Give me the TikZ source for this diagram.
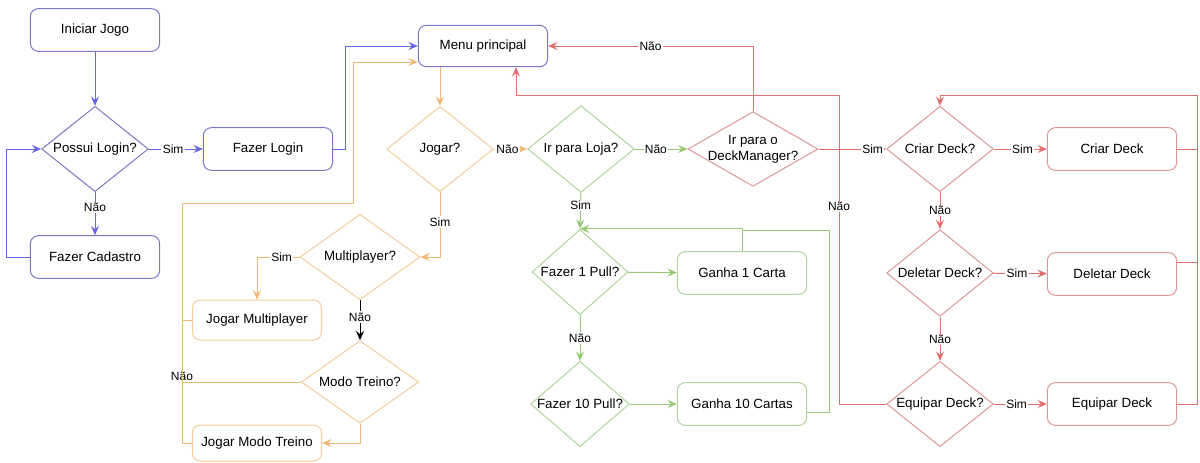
\documentclass[tikz,border=0pt]{standalone}
\usepackage{fontspec}
\setmainfont{Liberation Sans}
\usetikzlibrary{shapes.geometric,arrows.meta}

\definecolor{blueln}{RGB}{102,102,230}
\definecolor{bluebd}{RGB}{120,120,200}
\definecolor{orangeln}{RGB}{240,185,120}
\definecolor{orangebd}{RGB}{245,205,155}
\definecolor{greenln}{RGB}{150,200,120}
\definecolor{greenbd}{RGB}{175,212,158}
\definecolor{redln}{RGB}{224,112,112}
\definecolor{redbd}{RGB}{222,150,150}

\tikzset{every picture/.style={line width=0.75pt}}
\tikzset{
  box/.style={draw, rounded corners=6pt, minimum width=97pt, minimum height=32pt, inner sep=2pt, font=\fontsize{10}{12}\selectfont},
  cond/.style={draw, diamond, shape aspect=1.3, inner sep=0pt, minimum width=80pt, minimum height=64pt, align=center, font=\fontsize{10}{12}\selectfont},
  lbl/.style={fill=white, inner sep=1pt, font=\fontsize{9}{10}\selectfont},
  flow/.style={-{Stealth[length=7pt,width=6pt,inset=2.5pt]}},
  blueflow/.style={flow, draw=blueln},
  orangeflow/.style={flow, draw=orangeln},
  greenflow/.style={flow, draw=greenln},
  redflow/.style={flow, draw=redln}
}

\begin{document}
\begin{tikzpicture}[x=0.75pt,y=0.75pt,yscale=-1,xscale=1]
	\useasboundingbox (0,0) rectangle (1200,462);
	
	% Login
	\node [box, draw=bluebd] (inicio) at (95,30) {Iniciar Jogo};
	\node [cond, draw=bluebd] (possui) at (95,149) {Possui Login?};
	\node [box, draw=bluebd] (cadastro) at (95,257) {Fazer Cadastro};
	\node [box, draw=bluebd] (login) at (268,149) {Fazer Login};
	\node [box, draw=bluebd, minimum height=31pt] (menu) at (483,46) {Menu principal};
	
	% Jogar
	\node [cond, draw=orangebd] (jogar) at (440,149) {Jogar?};
	\node [cond, draw=orangebd, minimum width=90pt] (multi) at (360,257) {Multiplayer?};
	\node [cond, draw=orangebd, minimum width=88pt, minimum height=62pt] (treino) at (360,382) {Modo Treino?};
	\node [box, draw=orangebd, minimum height=30pt] (jogmulti) at (257,320) {Jogar Multiplayer};
	\node [box, draw=orangebd, minimum height=27pt] (jogtreino) at (257,443) {Jogar Modo Treino};
	
	% Loja
	\node [cond, draw=greenbd, minimum height=65pt] (loja) at (581,149) {Ir para Loja?};
	\node [cond, draw=greenbd, minimum width=72pt] (pull1) at (580,272) {Fazer 1 Pull?};
	\node [cond, draw=greenbd, minimum width=72pt] (pull10) at (580,404) {Fazer 10 Pull?};
	\node [box, draw=greenbd] (ganha1) at (742,273) {Ganha 1 Carta};
	\node [box, draw=greenbd] (ganha10) at (742,404) {Ganha 10 Cartas};
	
	% DeckManager
	\node [cond, draw=redbd, shape aspect=1.73, inner sep=-3pt, minimum width=97.5pt, minimum height=56pt] (deckman) at (753,149) {Ir para o\\DeckManager?};
	\node [cond, draw=redbd] (qcriar) at (940,149) {Criar Deck?};
	\node [cond, draw=redbd, minimum height=65pt] (qdeletar) at (940,273) {Deletar Deck?};
	\node [cond, draw=redbd] (qequipar) at (940,404) {Equipar Deck?};
	\node [box, draw=redbd] (criar) at (1112,149) {Criar Deck};
	\node [box, draw=redbd] (deletar) at (1112,274) {Deletar Deck};
	\node [box, draw=redbd] (equipar) at (1112,404) {Equipar Deck};
	
	\coordinate (ojoin) at (182,203);
	\coordinate (oturn) at (353,203);
	\coordinate (gtop) at (829,230);
	\coordinate (rleft) at (839,95);
	\coordinate (rright) at (1197,95);
	
	% blue
	\draw [blueflow] (inicio) -- (possui);
	\draw [blueflow] (possui) -- node [lbl, pos=0.45] {Sim} (login);
	\draw [blueflow] (possui) -- node [lbl, pos=0.35] {Não} (cadastro);
	\draw [blueflow] (cadastro.west) -- ++(-23,0) |- (possui.west);
	\draw [blueflow] (login.east) -- ++(12,0) |- (menu.west);
	
	% orange
	\draw [orangeflow] (jogar.north |- menu.south) -- (jogar.north);
	\draw [orangeflow] (jogar.south) |- node [lbl, pos=0.23] {Sim} (multi.east);
	\draw [orangeflow] (multi.west) -| node [lbl, pos=0.21] {Sim} (jogmulti.north);
	\draw [flow, draw=black] (multi.south) -- node [lbl, pos=0.42] {Não} (treino.north);
	\draw [orangeflow] (treino.south) |- (jogtreino.east);
	\draw [draw=orangeln] (jogmulti.west) -- (jogmulti.west -| ojoin);
	\draw [draw=orangeln] (treino.west) -- (treino.west -| ojoin) node [lbl, anchor=south] {Não};
	\draw [orangeflow] (jogtreino.west) -| (ojoin) -- (oturn) |- (menu.south west |- 0,62);
	\draw [orangeflow] (jogar.east) -- node [lbl, pos=0.41] {Não} (loja.west);
	
	% green
	\draw [greenflow] (loja.east) -- node [lbl, pos=0.4] {Não} (deckman.west);
	\draw [greenflow] (loja.south) -- node [lbl, pos=0.35] {Sim} (pull1.north);
	\draw [greenflow] (pull1) -- (ganha1);
	\draw [greenflow] (pull1.south) -- node [lbl, pos=0.5] {Não} (pull10.north);
	\draw [greenflow] (pull10) -- (ganha10);
	\draw [greenflow] (ganha1.north) |- (pull1.north);
	\draw [draw=greenln] (ganha10.-7) -| (gtop) -- (gtop -| ganha1.north);
	
	% red
	\draw [redflow] (deckman.north) |- node [lbl, pos=0.75] {Não} (menu.east);
	\draw [redflow] (deckman.east) -- node [lbl, pos=0.8] {Sim} (qcriar.west);
	\draw [redflow] (qcriar) -- node [lbl, pos=0.54] {Sim} (criar);
	\draw [redflow] (qcriar.south) -- node [lbl, pos=0.5] {Não} (qdeletar.north);
	\draw [redflow] (qdeletar) -- node [lbl, pos=0.44] {Sim} (deletar);
	\draw [redflow] (qdeletar.south) -- node [lbl, pos=0.52] {Não} (qequipar.north);
	\draw [redflow] (qequipar) -- node [lbl, pos=0.43] {Sim} (equipar);
	\draw [redflow] (qequipar.west) -| node [lbl, pos=0.82] {Não} (rleft) -| ([xshift=24.75pt]menu.south);
	\draw [draw=redln] (criar.east) -- (criar.east -| rright);
	\draw [draw=redln] (deletar.10) -- (deletar.10 -| rright);
	\draw [redflow] (equipar.east) -| (rright) -| (qcriar.north);
	
\end{tikzpicture}
\end{document}
